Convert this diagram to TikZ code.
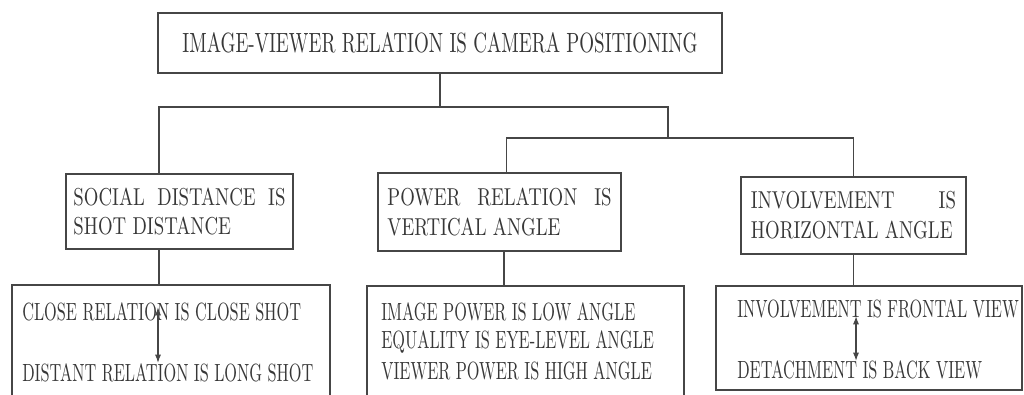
\documentclass[tikz,border=0pt]{standalone}
\usepackage{fontspec}
\setmainfont{lmroman10-regular.otf}[FakeStretch=0.7]
\newfontfamily\headfont{lmroman10-regular.otf}[FakeStretch=0.684]
\newfontfamily\catfont{lmroman10-regular.otf}[FakeStretch=0.77]
\newfontfamily\itemfont{lmroman10-regular.otf}[FakeStretch=0.655]
\usepackage{xcolor}
\usepackage{tikz}
\usetikzlibrary{positioning, arrows.meta}
\definecolor{InkGray}{RGB}{55,55,55}
\definecolor{LineGray}{RGB}{70,70,70}
\tikzset{
  headbox/.style={draw=LineGray, line width=1.1pt, inner sep=0pt, text=InkGray,
    font=\headfont\fontsize{19.8}{24}\selectfont, align=center},
  catbox/.style={draw=LineGray, line width=1.1pt, inner sep=0pt, text=InkGray,
    font=\catfont\fontsize{17.4}{21.3}\selectfont, align=justify},
  listbox/.style={draw=LineGray, line width=1.1pt, inner sep=0pt},
  item/.style={anchor=west, inner sep=0pt, text=InkGray, font=\itemfont\fontsize{17.7}{21}\selectfont},
  link/.style={draw=LineGray, line width=1.1pt},
  dblarr/.style={{Latex[length=6pt,width=4.4pt]}-{Latex[length=6pt,width=4.4pt]}, LineGray, line width=1pt},
}

\begin{document}
\begin{tikzpicture}[x=0.025cm, y=-0.025cm]
    \clip (0,0) rectangle (1024,394);
    \fill[white] (0,0) rectangle (1024,394);
    % top of the tree
    \node[headbox, minimum width=14.1cm, minimum height=1.5cm] (top) at (440,43)
      {IMAGE-VIEWER RELATION IS CAMERA POSITIONING};
    % three categories
    \node[catbox, minimum width=5.675cm, minimum height=1.875cm, text width=5.3cm] (social) at (179.5,211.5)
      {SOCIAL DISTANCE IS\linebreak SHOT DISTANCE};
    \node[catbox, minimum width=6.075cm, minimum height=1.95cm, text width=5.6cm] (power) at (499.5,212)
      {POWER RELATION IS\linebreak VERTICAL ANGLE};
    \node[catbox, minimum width=5.625cm, minimum height=1.925cm, text width=5.125cm] (involve) at (853.5,215.5)
      {INVOLVEMENT IS\linebreak HORIZONTAL ANGLE};
    % lists
    \node[listbox, minimum width=7.95cm, minimum height=2.775cm] (shots) at (171,340.5) {};
    \node[listbox, minimum width=7.925cm, minimum height=2.75cm] (angles) at (525.5,341) {};
    \node[listbox, minimum width=7.65cm, minimum height=2.6cm] (views) at (869,338) {};
    \node[item] (close) at (22,312) {CLOSE RELATION IS CLOSE SHOT};
    \node[item] (distant) at (22,373) {DISTANT RELATION IS LONG SHOT};
    \node[item] (low) at (381,312) {IMAGE POWER IS LOW ANGLE};
    \node[item] (eye) at (381,342) {EQUALITY IS EYE-LEVEL ANGLE};
    \node[item] (high) at (381,371) {VIEWER POWER IS HIGH ANGLE};
    \node[item] (frontal) at (737,309) {INVOLVEMENT IS FRONTAL VIEW};
    \node[item] (back) at (737,370) {DETACHMENT IS BACK VIEW};
    % tree lines
    \coordinate (j0) at (159,107);
    \coordinate (j1) at (668,107);
    \coordinate (j2) at (668,138);
    \draw[link] (top.south) -- (top.south |- j1);
    \draw[link] (social.north -| j0) -- (j0) -- (j1) -- (j2);
    \draw[link] ([xshift=5pt]power.north) |- (j2) -| (involve.north);
    \draw[link] (social.south -| j0) -- (shots.north -| j0);
    \draw[link] ([xshift=3pt]power.south) -- ([xshift=3pt]power.south |- angles.north);
    \draw[link] (involve.south) -- (involve.south |- views.north);
    % two-way arrows
    \coordinate (s1) at (158,307);
    \coordinate (s2) at (158,363);
    \coordinate (v1) at (856,316);
    \coordinate (v2) at (856,361);
    \draw[dblarr] (s1) -- (s2);
    \draw[dblarr] (v1) -- (v2);
  \end{tikzpicture}
\end{document}
